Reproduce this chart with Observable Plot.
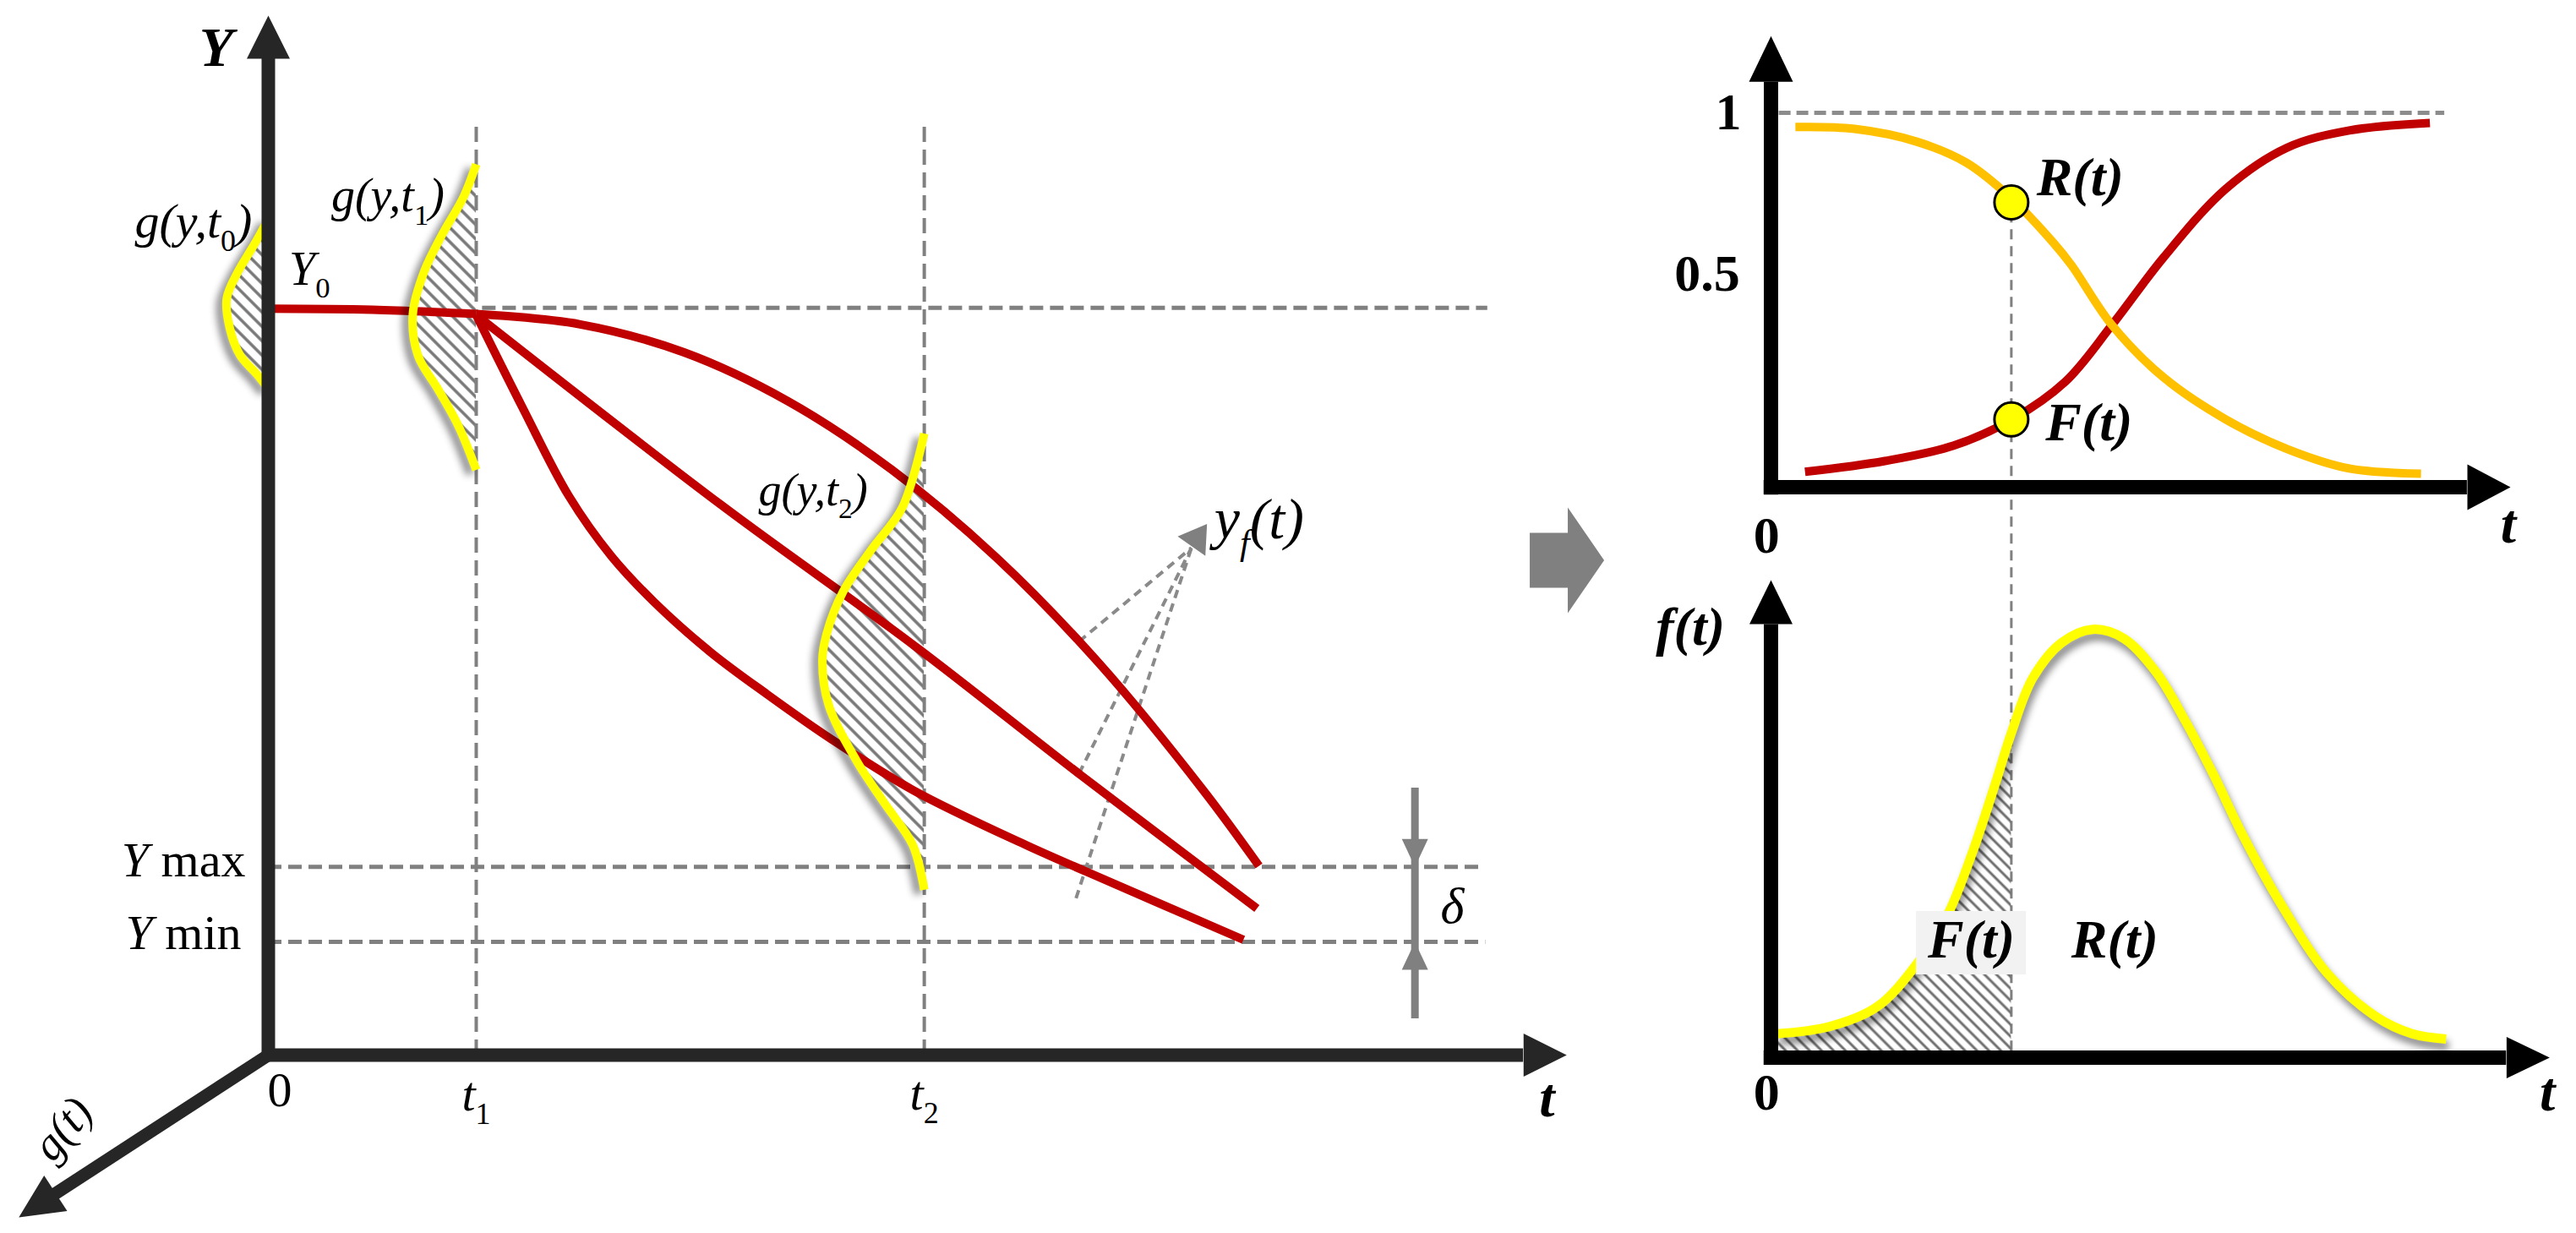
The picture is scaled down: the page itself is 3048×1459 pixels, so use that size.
<!DOCTYPE html>
<html><head><meta charset="utf-8">
<script src="https://cdn.jsdelivr.net/npm/d3@7"></script>
<script src="https://cdn.jsdelivr.net/npm/@observablehq/plot@0.6"></script>
<style>
html,body{margin:0;padding:0;background:#fff;}
#fig{position:relative;width:3048px;height:1459px;overflow:hidden;background:#fff;}
#fig svg{position:absolute;left:0;top:0;max-width:none;}
#fig svg text{font-family:"Liberation Serif","DejaVu Serif","Noto Serif","Times New Roman",Times,serif !important;}
</style></head><body><div id="fig"></div>
<script>
// ================= LEFT PANEL: degradation paths (units: t, Y) =================
const t1 = 2.0, t2 = 6.31;
const Y0 = 7.19, Ymax = 1.81, Ymin = 1.09;
const initialPath = [[0.00,7.18],[1.00,7.17],[2.00,7.13]];
const upperPath = [[2.00,7.13],[3.00,7.03],[4.00,6.76],[5.00,6.29],[6.00,5.63],[7.00,4.79],[8.00,3.76],[9.00,2.54],[9.53,1.82]];
const middlePath = [[2.00,7.12],[4.36,5.29],[6.20,3.95],[7.82,2.69],[9.51,1.41]];
const lowerPath = [[2.00,7.12],[2.45,6.22],[2.89,5.38],[3.30,4.80],[3.71,4.36],[4.25,3.88],[4.80,3.47],[5.40,3.05],[6.20,2.55],[7.29,2.02],[7.88,1.76],[9.38,1.11]];
// g(y,t) densities, drawn sideways: [t, Y]
const gAtT0 = [[0.00,8.04],[-0.14,7.79],[-0.29,7.54],[-0.40,7.28],[-0.37,6.99],[-0.27,6.73],[-0.11,6.55],[0.00,6.41]];
const gAtT1 = [[2.00,8.57],[1.88,8.26],[1.67,7.89],[1.50,7.54],[1.39,7.13],[1.44,6.73],[1.63,6.41],[1.83,6.05],[2.00,5.63]];
const gAtT2 = [[6.31,5.98],[6.10,5.27],[5.80,4.86],[5.53,4.46],[5.37,4.05],[5.33,3.80],[5.39,3.37],[5.66,2.83],[5.93,2.42],[6.20,2.02],[6.31,1.59]];
const gBaselines = [0, t1, t2];
const hGuides = [{Y: Y0, from: 2.06, to: 11.73}, {Y: Ymax, from: 0, to: 11.67}, {Y: Ymin, from: 0, to: 11.71}];
const vGuides = [{t: t1, top: 8.97}, {t: t2, top: 8.96}];
const yfSources = [{t: 7.80, Y: 3.98}, {t: 7.80, Y: 2.71}, {t: 7.77, Y: 1.51}];
const yfJoin = [{t: 8.88, Y: 4.88}];
const yfTip = [{t: 9.03, Y: 5.11}];
const deltaBar = [{t: 11.03, lo: 0.35, hi: 2.57}];
const deltaHeads = [{t: 11.03, Y: Ymax, dir: 90}, {t: 11.03, Y: Ymin, dir: -90}];
const leftAxisY = [[0,-0.06],[0,9.59]], leftAxisYTip = [[0,10]];
const leftAxisT = [[-0.06,0],[12.07,0]], leftAxisTTip = [[12.49,0]];
const leftAxisG = [[0,0],[-2.06,-1.34]], leftAxisGTip = [[-2.40,-1.56]];
const shiftArrowTip = [[12.85,4.76]];
const leftBoldLabels = [{t:-0.50, Y:9.69, s:"Y"}, {t:12.30, Y:-0.42, s:"t"}];
const leftDistLabels = [{t:-0.72, Y:8.02, s:"g(y,t_0)", k:58}, {t:1.15, Y:8.26, s:"g(y,t_1)", k:56}, {t:5.24, Y:5.43, s:"g(y,t_2)", k:54}];
const leftStartLabels = [{t:0.20, Y:7.56, s:"Y_0", k:56}, {t:9.10, Y:5.15, s:"y_f(t)", k:68}];
const leftLevelLabels = [{t:-0.22, Y:1.87, s:"~Y~ max"}, {t:-0.26, Y:1.17, s:"~Y~ min"}];
const leftTimeLabels = [{t:2.0, Y:-0.38, s:"t_1"}, {t:6.31, Y:-0.37, s:"t_2"}];
const leftZero = [{t:0.11, Y:-0.34, s:"0"}];
const deltaLabel = [{t:11.39, Y:1.43, s:"δ"}];
const gAxisLabel = [{t:-1.98, Y:-0.71, s:"g(t)"}];

// ================= TOP RIGHT: R(t), F(t) (units: t, probability) =================
const tMark = 3.25;
const reliability = [[0.33,0.962],[1.13,0.957],[1.97,0.923],[2.64,0.867],[3.22,0.777],[3.81,0.655],[4.06,0.594],[4.61,0.433],[5.31,0.293],[6.15,0.181],[6.98,0.102],[7.82,0.050],[8.79,0.036]];
const unreliability = [[0.46,0.041],[1.54,0.070],[2.47,0.111],[3.26,0.181],[3.98,0.282],[4.61,0.433],[5.31,0.614],[6.15,0.797],[6.98,0.907],[7.82,0.953],[8.91,0.973]];
const markPoints = [{t: tMark, v: 0.761}, {t: tMark, v: 0.181}];
const markLine = [{t: tMark, lo: -1.506, hi: 0.761}];
const unitGuide = [{v: 1, from: 0.11, to: 9.11}];
const topAxisY = [[0,-0.02],[0,1.083]], topAxisYTip = [[0,1.205]];
const topAxisT = [[-0.1,0],[9.41,0]], topAxisTTip = [[10,0]];
const topTick1 = [{t:-0.40, v:1, s:"1"}];
const topTickHalf = [{t:-0.42, v:0.5, s:"0.5"}];
const topZero = [{t:-0.06, v:-0.131, s:"0"}];
const topCurveLabels = [{t:3.59, v:0.826, s:"R(t)"}, {t:3.71, v:0.172, s:"F(t)"}];
const topTLabel = [{t:9.97, v:-0.10, s:"t"}];

// ================= BOTTOM RIGHT: f(t) (units: t, density) =================
const density = [[0.08,0.050],[0.79,0.065],[1.43,0.106],[1.98,0.198],[2.39,0.300],[2.72,0.428],[3.04,0.577],[3.25,0.680],[3.54,0.795],[3.93,0.869],[4.35,0.897],[4.77,0.878],[5.21,0.807],[5.60,0.706],[5.99,0.591],[6.37,0.469],[6.88,0.326],[7.52,0.177],[8.17,0.087],[8.67,0.050],[9.13,0.039]];
const botAxisY = [[0,-0.015],[0,0.908]], botAxisYTip = [[0,1]];
const botAxisT = [[-0.1,0],[9.94,0]], botAxisTTip = [[10.53,0]];
const botLabels = [{t:-1.09, f:0.90, s:"f(t)"}, {t:2.71, f:0.246, s:"F(t)"}, {t:4.65, f:0.246, s:"R(t)"}];
const botZero = [{t:-0.06, f:-0.073, s:"0"}];
const botTLabel = [{t:10.50, f:-0.073, s:"t"}];

// ================= helpers =================
const NS = "http://www.w3.org/2000/svg";
const serif = '"Liberation Serif", "DejaVu Serif", "Noto Serif", "Times New Roman", Times, serif';
const svgStyle = "position:absolute;left:0;top:0;max-width:none;background:none;overflow:visible;";
const P0 = d => d[0], P1 = d => d[1];
function defsMark(html) { return () => { const d = document.createElementNS(NS, "defs"); d.innerHTML = html; return d; }; }
function hatch(id, size, width, color) {
  return `<pattern id="${id}" patternUnits="userSpaceOnUse" width="${size}" height="${size}" patternTransform="rotate(45)"><line x1="-1" y1="${size/2}" x2="${size+1}" y2="${size/2}" stroke="${color}" stroke-width="${width}"/></pattern>`;
}
function head(len, wid) { return { draw(ctx) { ctx.moveTo(0,0); ctx.lineTo(-len,-wid/2); ctx.lineTo(-len,wid/2); ctx.closePath(); } }; }
const blockArrow = { draw(ctx) { ctx.moveTo(0,0); ctx.lineTo(-43,-62.5); ctx.lineTo(-43,-32.5); ctx.lineTo(-88,-32.5); ctx.lineTo(-88,32.5); ctx.lineTo(-43,32.5); ctx.lineTo(-43,62.5); ctx.closePath(); } };
function axisMarks(line, tip, len, wid, rot, color, sw) {
  return [
    Plot.line(line, {x: P0, y: P1, stroke: color, strokeWidth: sw, strokeLinecap: "butt"}),
    Plot.dot(tip, {x: P0, y: P1, symbol: head(len, wid), rotate: rot, fill: color, stroke: "none"})
  ];
}
function txt(data, x, y, o) {
  return Plot.text(data, Object.assign({x, y, text: "s", fontFamily: serif, fill: "#000"}, o));
}

// ================= Plot A =================
const axisDark = "#262626";
const plotA = Plot.plot({
  width: 3048, height: 1459,
  marginLeft: 317, marginRight: 3048 - 317 - 12.5 * 123, marginTop: 18, marginBottom: 211,
  x: {domain: [0, 12.5], axis: null},
  y: {domain: [0, 10], axis: null},
  style: svgStyle,
  marks: [
    defsMark(hatch("hatchA", 12, 3.5, "#767676")),
    ...[gAtT0, gAtT1, gAtT2].map((g, i) => Plot.areaX(g, {y: P1, x1: () => gBaselines[i], x2: P0, fill: "url(#hatchA)", curve: "catmull-rom"})),
    Plot.ruleY(hGuides, {y: "Y", x1: "from", x2: "to", stroke: "#808080", strokeWidth: 5, strokeDasharray: "16,8"}),
    Plot.ruleX(vGuides, {x: "t", y1: () => 0, y2: "top", stroke: "#808080", strokeWidth: 4, strokeDasharray: "18,9"}),
    Plot.link(yfSources, {x1: "t", y1: "Y", x2: () => yfJoin[0].t, y2: () => yfJoin[0].Y, stroke: "#8a8a8a", strokeWidth: 4, strokeDasharray: "10,7"}),
    Plot.dot(yfTip, {x: "t", y: "Y", symbol: head(32, 40), rotate: -55, fill: "#808080", stroke: "none"}),
    ...[initialPath, upperPath, middlePath, lowerPath].map(p => Plot.line(p, {x: P0, y: P1, stroke: "#c00000", strokeWidth: 10, curve: "catmull-rom", strokeLinecap: "butt"})),
    ...[gAtT0, gAtT1, gAtT2].map(g => Plot.line(g, {x: P0, y: P1, stroke: "#ffff00", strokeWidth: 10, curve: "catmull-rom", strokeLinecap: "butt"})),
    Plot.ruleX(deltaBar, {x: "t", y1: "lo", y2: "hi", stroke: "#808080", strokeWidth: 9}),
    ...deltaHeads.map(h => Plot.dot([h], {x: "t", y: "Y", symbol: head(33, 31), rotate: h.dir, fill: "#808080", stroke: "none"})),
    ...axisMarks(leftAxisY, leftAxisYTip, 51, 51, -90, axisDark, 16),
    ...axisMarks(leftAxisT, leftAxisTTip, 51, 51, 0, axisDark, 16),
    ...axisMarks(leftAxisG, leftAxisGTip, 52, 50, 146.9, axisDark, 15),
    Plot.dot(shiftArrowTip, {x: P0, y: P1, symbol: blockArrow, fill: "#808080", stroke: "none"}),
    txt(leftBoldLabels, "t", "Y", {fontSize: 66, fontWeight: "bold", fontStyle: "italic"}),
    txt(leftDistLabels, "t", "Y", {fontSize: "k", fontStyle: "italic"}),
    txt(leftStartLabels, "t", "Y", {fontSize: "k", fontStyle: "italic", textAnchor: "start"}),
    txt(leftLevelLabels, "t", "Y", {fontSize: 58, textAnchor: "end"}),
    txt(leftTimeLabels, "t", "Y", {fontSize: 58, fontStyle: "italic"}),
    txt(leftZero, "t", "Y", {fontSize: 58}),
    txt(deltaLabel, "t", "Y", {fontSize: 60, fontStyle: "italic"}),
    txt(gAxisLabel, "t", "Y", {fontSize: 54, fontStyle: "italic", rotate: -50})
  ]
});

// ================= Plot B =================
const plotB = Plot.plot({
  width: 3048, height: 1459,
  marginLeft: 2095, marginRight: 78, marginTop: 133, marginBottom: 883,
  x: {domain: [0, 10], axis: null},
  y: {domain: [0, 1], axis: null},
  style: svgStyle,
  marks: [
    Plot.ruleY(unitGuide, {y: "v", x1: "from", x2: "to", stroke: "#8c8c8c", strokeWidth: 5, strokeDasharray: "14,7"}),
    Plot.ruleX(markLine, {x: "t", y1: "lo", y2: "hi", stroke: "#808080", strokeWidth: 3, strokeDasharray: "12,8"}),
    Plot.line(unreliability, {x: P0, y: P1, stroke: "#c00000", strokeWidth: 10, curve: "catmull-rom", strokeLinecap: "butt"}),
    Plot.line(reliability, {x: P0, y: P1, stroke: "#ffc000", strokeWidth: 10, curve: "catmull-rom", strokeLinecap: "butt"}),
    Plot.dot(markPoints, {x: "t", y: "v", r: 20, fill: "#ffff00", stroke: "#000", strokeWidth: 3}),
    ...axisMarks(topAxisY, topAxisYTip, 54, 52, -90, "#000", 17),
    ...axisMarks(topAxisT, topAxisTTip, 51, 54, 0, "#000", 17),
    txt(topTick1, "t", "v", {fontSize: 62, fontWeight: "bold", textAnchor: "end"}),
    txt(topTickHalf, "t", "v", {fontSize: 62, fontWeight: "bold", textAnchor: "end", dy: -31}),
    txt(topZero, "t", "v", {fontSize: 62, fontWeight: "bold"}),
    txt(topCurveLabels, "t", "v", {fontSize: 64, fontWeight: "bold", fontStyle: "italic", textAnchor: "start"}),
    txt(topTLabel, "t", "v", {fontSize: 66, fontWeight: "bold", fontStyle: "italic"})
  ]
});

// ================= Plot C =================
const plotC = Plot.plot({
  width: 3048, height: 1459,
  marginLeft: 2095, marginRight: 3048 - 2095 - 10.53 * 87.5, marginTop: 686, marginBottom: 208,
  x: {domain: [0, 10.53], axis: null},
  y: {domain: [0, 1], axis: null},
  style: svgStyle,
  marks: [
    defsMark(hatch("hatchC", 10, 3, "#6e6e6e")),
    Plot.areaY(density.filter(d => d[0] <= tMark), {x: P0, y1: () => 0, y2: P1, fill: "url(#hatchC)", curve: "catmull-rom"}),
    Plot.line(density, {x: P0, y: P1, stroke: "#ffff00", strokeWidth: 11, curve: "catmull-rom", strokeLinecap: "butt"}),
    ...axisMarks(botAxisY, botAxisYTip, 52, 51, -90, "#000", 17),
    ...axisMarks(botAxisT, botAxisTTip, 51, 49, 0, "#000", 17),
    txt(botLabels, "t", "f", {fontSize: 64, fontWeight: "bold", fontStyle: "italic"}),
    txt(botZero, "t", "f", {fontSize: 62, fontWeight: "bold"}),
    txt(botTLabel, "t", "f", {fontSize: 66, fontWeight: "bold", fontStyle: "italic"})
  ]
});

const fig = document.getElementById("fig");
fig.append(plotA, plotB, plotC);
[plotA, plotB, plotC].forEach(svg => svg.querySelectorAll("text").forEach(t => t.style.fontFamily = serif));

// rich text: "_x" = subscript, "~" toggles italic
function richify(svg) {
  svg.querySelectorAll("text").forEach(el => {
    const s = el.textContent;
    if (!/[_~]/.test(s)) return;
    const cs = getComputedStyle(el);
    const fs = parseFloat(cs.fontSize);
    let italic = cs.fontStyle === "italic";
    const segs = []; let buf = "";
    for (let i = 0; i < s.length; i++) {
      const c = s[i];
      if (c === "~") { if (buf) segs.push({txt: buf, italic}); buf = ""; italic = !italic; }
      else if (c === "_") { if (buf) segs.push({txt: buf, italic}); buf = ""; segs.push({txt: s[++i], sub: true}); }
      else buf += c;
    }
    if (buf) segs.push({txt: buf, italic});
    el.textContent = "";
    let down = false;
    for (const g of segs) {
      const ts = document.createElementNS(NS, "tspan");
      ts.textContent = g.txt;
      if (g.sub) {
        ts.setAttribute("font-size", fs * 0.62);
        ts.setAttribute("font-style", /\d/.test(g.txt) ? "normal" : "italic");
        if (!down) ts.setAttribute("dy", fs * 0.28);
        down = true;
      } else {
        ts.setAttribute("font-style", g.italic ? "italic" : "normal");
        if (down) ts.setAttribute("dy", -fs * 0.28);
        down = false;
      }
      el.appendChild(ts);
    }
  });
}
[plotA, plotB, plotC].forEach(richify);

// soft shadows under the yellow density curves
plotA.querySelectorAll('g[stroke="#ffff00"]').forEach(g => g.style.filter = "drop-shadow(-7px 5px 4px rgba(0,0,0,0.45))");
plotC.querySelectorAll('g[stroke="#ffff00"]').forEach(g => g.style.filter = "drop-shadow(3px 8px 4px rgba(0,0,0,0.45))");

// light box behind the F(t) label of the density panel
const fText = [...plotC.querySelectorAll("text")].find(t => t.textContent === "F(t)");
if (fText) {
  const bb = fText.getBBox();
  const r = document.createElementNS(NS, "rect");
  r.setAttribute("x", bb.x - 13); r.setAttribute("y", bb.y + 2);
  r.setAttribute("width", bb.width + 26); r.setAttribute("height", bb.height + 4);
  r.setAttribute("fill", "#f2f2f2");
  const tr = fText.getAttribute("transform"); if (tr) r.setAttribute("transform", tr);
  fText.parentNode.insertBefore(r, fText);
}
</script></body></html>
